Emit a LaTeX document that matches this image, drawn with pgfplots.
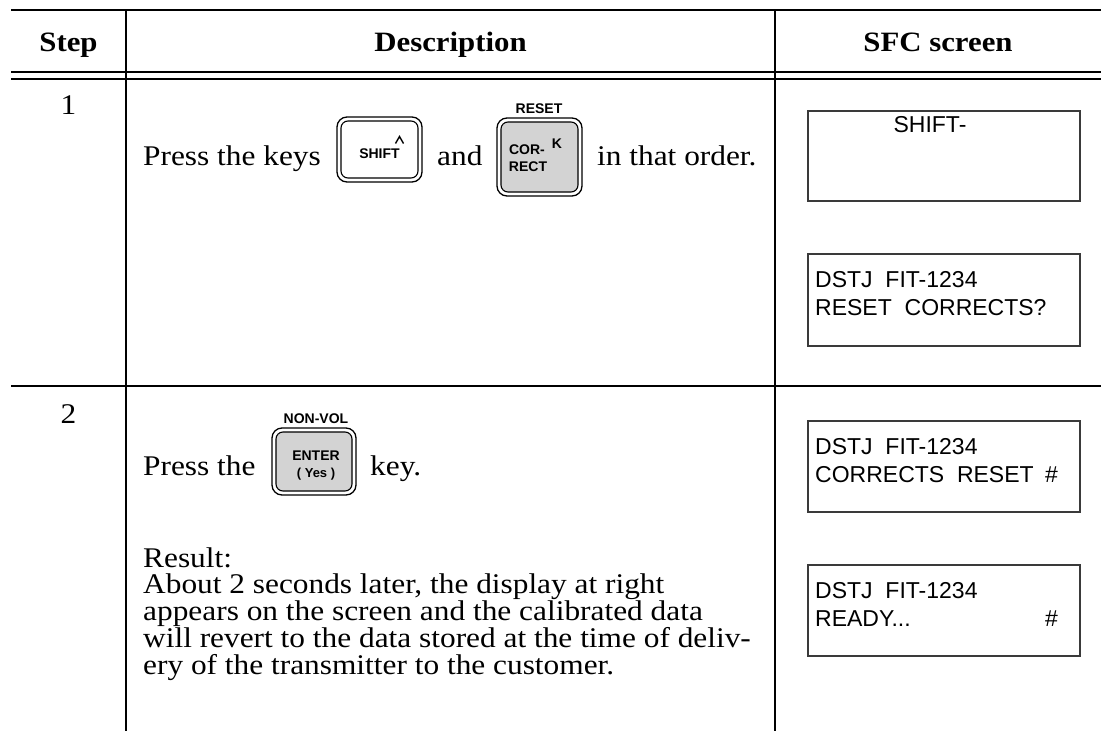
\documentclass[border=0pt]{standalone}
\usepackage{fontspec}
\setmainfont{Liberation Serif}[FakeStretch=1.1]
\newfontfamily\keyf{Liberation Sans}
\newfontfamily\lcd{Liberation Sans}
\usepackage{pgfplots}
\pgfplotsset{compat=1.18}
\definecolor{keygray}{HTML}{D3D3D3}
\definecolor{boxgray}{HTML}{3A3A3A}
\tikzset{
  txt/.style={inner sep=0pt, font=\fontsize{28.5}{27}\selectfont},
  hdr/.style={inner sep=0pt, font=\fontsize{28}{27}\selectfont\bfseries},
  lab/.style={inner sep=0pt, font=\keyf\bfseries\fontsize{14}{14}\selectfont},
  scr/.style={inner sep=0pt, font=\lcd\fontsize{23}{23}\selectfont},
}
\begin{document}
\begin{tikzpicture}
\useasboundingbox (0,0) rectangle (1101pt,731pt);
\begin{axis}[hide axis, scale only axis, width=1101pt, height=731pt,
  xmin=0, xmax=1101, ymin=0, ymax=731, y dir=reverse, clip=false,
  anchor=south west, at={(0,0)}]
% ---- table rules
\addplot[black, line width=2.4pt, mark=none] coordinates {(11,10) (1101,10)};
\addplot[black, line width=2pt, mark=none] coordinates {(11,72) (1101,72)};
\addplot[black, line width=2pt, mark=none] coordinates {(11,79) (1101,79)};
\addplot[black, line width=2pt, mark=none] coordinates {(11,386) (1101,386)};
\addplot[black, line width=2pt, mark=none] coordinates {(126,10) (126,731)};
\addplot[black, line width=2pt, mark=none] coordinates {(775,10) (775,731)};
% ---- header
\node[hdr, anchor=base] at (axis cs:68.5,51) {Step};
\node[hdr, anchor=base] at (axis cs:450.5,51) {Description};
\node[hdr, anchor=base] at (axis cs:938,51) {SFC screen};
% ---- step numbers
\node[txt, anchor=base] at (axis cs:68.5,114) {1};
\node[txt, anchor=base] at (axis cs:68.5,423) {2};
% ---- row 1 text
\node[txt, anchor=base west] at (axis cs:143,165) {Press the keys};
\node[txt, anchor=base west] at (axis cs:437,165) {and};
\node[txt, anchor=base west] at (axis cs:597,165) {in that order.};
% SHIFT key
\draw[black, line width=1.3pt, rounded corners=10pt, fill=white] (axis cs:337,117) rectangle (axis cs:422,182);
\draw[black, line width=1.1pt, rounded corners=7pt, fill=white] (axis cs:341,121) rectangle (axis cs:418,178);
\node[lab, anchor=base] at (axis cs:379.5,158) {SHIFT};
\draw[black, line width=1.4pt] (axis cs:395.5,143.5) -- (axis cs:399.5,136.5) -- (axis cs:403.5,143.5);
% CORRECT key
\node[lab, anchor=base] at (axis cs:539,113) {RESET};
\draw[black, line width=1.3pt, rounded corners=10pt, fill=white] (axis cs:497,118) rectangle (axis cs:582,196);
\draw[black, line width=1.1pt, rounded corners=7pt, fill=keygray] (axis cs:501,122) rectangle (axis cs:578,192);
\node[lab, anchor=base] at (axis cs:527,154) {COR-};
\node[lab, anchor=base] at (axis cs:528,171) {RECT};
\node[lab, anchor=base] at (axis cs:557,148) {K};
% ---- row 2 text
\node[txt, anchor=base west] at (axis cs:143,475) {Press the};
\node[txt, anchor=base west] at (axis cs:370,475) {key.};
\node[lab, anchor=base] at (axis cs:316,423) {NON-VOL};
\draw[black, line width=1.3pt, rounded corners=10pt, fill=white] (axis cs:272,428) rectangle (axis cs:356,495);
\draw[black, line width=1.1pt, rounded corners=7pt, fill=keygray] (axis cs:276,432) rectangle (axis cs:352,491);
\node[lab, anchor=base] at (axis cs:316,460) {ENTER};
\node[lab, anchor=base, font=\keyf\bfseries\fontsize{13}{13}\selectfont] at (axis cs:316,477) {( Yes )};
\node[txt, anchor=base west] at (axis cs:143,567) {Result:};
\node[txt, anchor=base west] at (axis cs:143,593.75) {About 2 seconds later, the display at right};
\node[txt, anchor=base west] at (axis cs:143,620.5) {appears on the screen and the calibrated data};
\node[txt, anchor=base west] at (axis cs:143,647.25) {will revert to the data stored at the time of deliv-};
\node[txt, anchor=base west] at (axis cs:143,674) {ery of the transmitter to the customer.};
% ---- screens
\draw[boxgray, line width=1.2pt] (axis cs:808,111) rectangle (axis cs:1080,201);
\node[scr, anchor=base] at (axis cs:930,132) {SHIFT-};
\draw[boxgray, line width=1.2pt] (axis cs:808,254) rectangle (axis cs:1080,346);
\node[scr, anchor=base west] at (axis cs:815,287) {DSTJ\ \ FIT-1234};
\node[scr, anchor=base west] at (axis cs:815,315) {RESET\ \ CORRECTS?};
\draw[boxgray, line width=1.2pt] (axis cs:808,421) rectangle (axis cs:1080,512);
\node[scr, anchor=base west] at (axis cs:815,454) {DSTJ\ \ FIT-1234};
\node[scr, anchor=base west] at (axis cs:815,482) {CORRECTS\ \ RESET};
\node[scr, anchor=base east] at (axis cs:1058,482) {\#};
\draw[boxgray, line width=1.2pt] (axis cs:808,565) rectangle (axis cs:1080,656);
\node[scr, anchor=base west] at (axis cs:815,598) {DSTJ\ \ FIT-1234};
\node[scr, anchor=base west] at (axis cs:815,626) {READY...};
\node[scr, anchor=base east] at (axis cs:1058,626) {\#};
\end{axis}
\end{tikzpicture}
\end{document}
